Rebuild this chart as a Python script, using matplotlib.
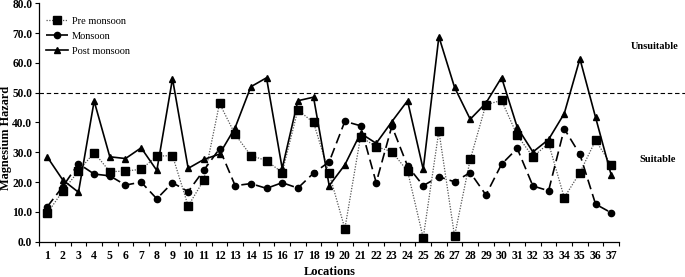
import matplotlib
matplotlib.use("Agg")
import matplotlib.pyplot as plt
import numpy as np

locations = list(range(1, 38))
pre_monsoon = [9.5, 17.0, 23.7, 29.9, 23.5, 23.7, 24.3, 28.7, 28.9, 12.0, 20.7, 46.4,
               36.0, 28.9, 27.2, 23.2, 44.2, 40.0, 22.9, 4.4, 35.2, 31.9, 30.2, 23.7,
               1.3, 37.2, 1.9, 27.6, 46.0, 47.4, 35.7, 28.5, 33.0, 14.8, 23.2, 34.0, 25.8]
monsoon = [11.7, 18.5, 26.2, 22.7, 22.1, 19.0, 20.0, 14.4, 19.8, 16.8, 24.0, 31.2,
           18.8, 19.5, 17.9, 19.8, 18.0, 23.0, 26.8, 40.4, 38.9, 19.8, 38.8, 25.4,
           18.8, 21.8, 20.1, 23.2, 15.7, 26.0, 31.3, 18.7, 17.1, 37.9, 29.3, 12.6, 9.7]
post_monsoon = [28.5, 20.7, 16.6, 47.2, 28.5, 27.9, 31.5, 23.9, 54.7, 24.6, 27.6, 29.4,
                38.3, 52.0, 55.0, 24.6, 47.3, 48.5, 18.8, 25.8, 36.4, 33.0, 40.3, 47.3,
                24.3, 68.8, 51.8, 41.1, 46.5, 55.1, 38.4, 30.1, 34.3, 43.0, 61.4, 41.7, 22.3]
threshold = 50.0
y_ticks = [0, 10, 20, 30, 40, 50, 60, 70, 80]

plt.rcParams['font.family'] = ['Liberation Serif', 'DejaVu Serif']

W, H = 685, 277
fig = plt.figure(figsize=(W / 100, H / 100), dpi=100)
left, right, bottom, top = 39.3, 685, 241.7, 3.3
aw, ah = right - left, bottom - top
ax = fig.add_axes([left / W, 1 - bottom / H, aw / W, ah / H])

x = np.array(locations)
ax.plot(x, pre_monsoon, linestyle=(0, (1, 1.2)), color='#555555', linewidth=0.9,
        marker='s', markersize=5.5, markerfacecolor='black', markeredgecolor='black',
        label='Pre monsoon')
ax.plot(x, monsoon, linestyle=(0, (6, 3)), color='black', linewidth=1.2,
        marker='o', markersize=4.5, markerfacecolor='black', markeredgecolor='black',
        label='Monsoon')
ax.plot(x, post_monsoon, linestyle='-', color='black', linewidth=1.2,
        marker='^', markersize=5, markerfacecolor='black', markeredgecolor='black',
        label='Post monsoon')
ax.axhline(threshold, color='black', linestyle=(0, (4, 2.5)), linewidth=0.8)

xmax = 0.5 + aw / 15.67
ax.set_xlim(0.5, xmax)
ax.set_ylim(0, 80)

ax.spines['top'].set_visible(False)
ax.spines['right'].set_visible(False)
ax.spines['bottom'].set_bounds(0.5, 37.5)
ax.spines['left'].set_linewidth(0.9)
ax.spines['bottom'].set_linewidth(0.9)

ax.set_xticks(x)
ax.set_xticklabels([str(v) for v in locations], fontsize=8.5, fontweight='bold')
ax.set_xticks(np.arange(0.5, 38, 1.0), minor=True)
ax.tick_params(axis='x', which='major', length=0, pad=6)
ax.tick_params(axis='x', which='minor', length=3, direction='out', width=0.8)
ax.set_yticks(y_ticks)
ax.set_yticklabels([f"{v:.1f}" for v in y_ticks], fontsize=8.3, fontweight='bold')
ax.tick_params(axis='y', length=3, direction='out', width=0.8, pad=2)

ax.set_xlabel('Locations', fontsize=9, fontweight='bold')
ax.xaxis.set_label_coords((330 - left) / aw, -(272 - bottom) / ah)
ax.xaxis.label.set_va('center')
ax.set_ylabel('Magnesium Hazard', fontsize=8.8, fontweight='bold')
ax.yaxis.set_label_coords((6 - left) / aw, 1 - (138 - top) / ah)
ax.yaxis.label.set_va('center')

leg = ax.legend(loc='upper left', bbox_to_anchor=(0.0, 0.97), frameon=False,
                fontsize=7.5, handlelength=2.2, handletextpad=0.3, labelspacing=0.55,
                borderaxespad=0.2)

ax.text((655 - left) / aw, 1 - (46.7 - top) / ah, 'Unsuitable',
        transform=ax.transAxes, ha='center', va='center', fontsize=7.5, fontweight='bold')
ax.text((658 - left) / aw, 1 - (160 - top) / ah, 'Suitable',
        transform=ax.transAxes, ha='center', va='center', fontsize=7.5, fontweight='bold')

fig.savefig('out.png', dpi=100)
